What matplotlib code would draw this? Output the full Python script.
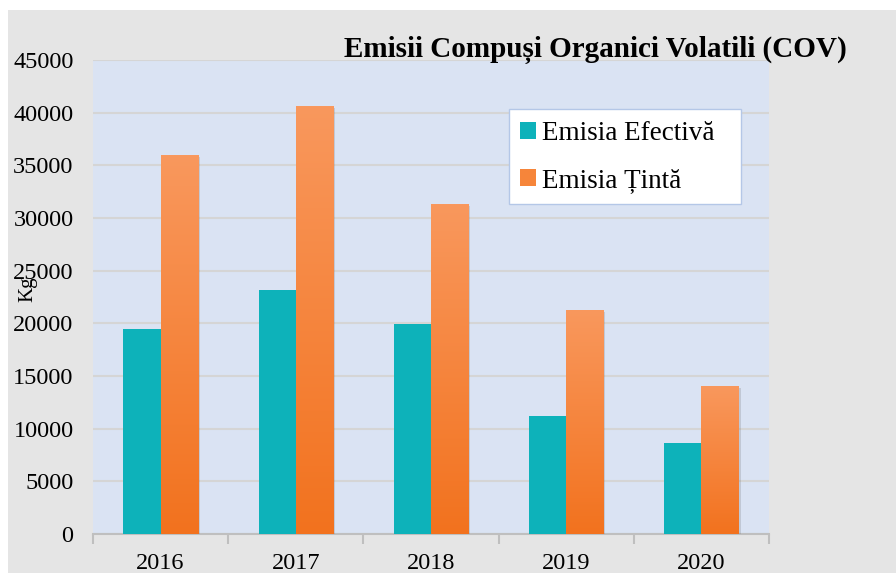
import numpy as np
import matplotlib
matplotlib.use('Agg')
import matplotlib.pyplot as plt
from matplotlib.patches import Rectangle, Patch
from matplotlib.colors import LinearSegmentedColormap
import matplotlib.patheffects as pe

years = ['2016', '2017', '2018', '2019', '2020']
efectiva = [19500, 23200, 19900, 11200, 8600]
tinta = [35900, 40600, 31300, 21200, 14000]
series_labels = ['Emisia Efectivă', 'Emisia Țintă']
yticks = list(range(0, 45001, 5000))
title = 'Emisii Compuși Organici Volatili (COV)'
ylabel = 'Kg'

plt.rcParams['font.family'] = ['Liberation Serif', 'DejaVu Serif']

W, H = 896, 573
fig = plt.figure(figsize=(W / 100, H / 100), dpi=100)
fig.patch.set_facecolor('white')
fig.add_artist(Rectangle((8 / W, 0), 1, 1 - 10 / H, transform=fig.transFigure,
                         facecolor='#e5e5e5', edgecolor='none', zorder=-10))

ax = fig.add_axes([93 / W, 39 / H, 676 / W, 474 / H])
ax.set_facecolor('#dae3f3')

x = np.arange(len(years))
w = 0.275
teal = '#0db2ba'
orange = '#f6853a'
shadow = [pe.SimplePatchShadow(offset=(1.5, -1), alpha=0.22, shadow_rgbFace='#6b6b6b'), pe.Normal()]
b1 = ax.bar(x - w / 2, efectiva, w, color=teal, zorder=3)
b2 = ax.bar(x + w / 2, tinta, w, color=orange, zorder=3)
for r in list(b1) + list(b2):
    r.set_path_effects(shadow)

cmap = LinearSegmentedColormap.from_list('o', ['#f2721e', '#f9985d'])
grad = np.linspace(0, 1, 256).reshape(-1, 1)
for r in b2:
    x0 = r.get_x()
    x1 = x0 + r.get_width()
    h = r.get_height()
    ax.imshow(grad, extent=(x0, x1, 0, h), origin='lower', aspect='auto',
              cmap=cmap, zorder=3.5, interpolation='bilinear')

ax.set_xlim(-0.5, len(years) - 0.5)
ax.set_ylim(0, 45000)
ax.set_yticks(yticks)
ax.set_yticklabels([str(v) for v in yticks])
ax.yaxis.grid(True, color='#d5d5d5', linewidth=1.5)
ax.set_axisbelow(True)
ax.tick_params(axis='y', length=0, labelsize=17.5, pad=14)

ax.set_xticks(x)
ax.set_xticklabels(years)
ax.set_xticks(np.arange(-0.5, len(years)), minor=True)
ax.tick_params(axis='x', which='major', length=0, labelsize=17.5, pad=13.5)
ax.tick_params(axis='x', which='minor', length=7, width=1.5, color='#bfbfbf')
for s in ['left', 'top', 'right']:
    ax.spines[s].set_visible(False)
ax.spines['bottom'].set_color('#bfbfbf')
ax.spines['bottom'].set_linewidth(1.5)

fig.text(344 / W, 1 - 57 / H, title, fontsize=21, fontweight='bold',
         ha='left', va='baseline', zorder=10)
fig.text(28 / W, 1 - 289 / H, ylabel, fontsize=15, rotation=90,
         ha='center', va='center', zorder=10)

fig.add_artist(Rectangle((509 / W, 1 - 204 / H), (741 - 509) / W, 95 / H,
                         transform=fig.transFigure, facecolor='white',
                         edgecolor='#b4c7e7', linewidth=1, zorder=5))
handles = [Patch(facecolor=teal), Patch(facecolor=orange)]
leg = fig.legend(handles, series_labels, loc='upper left',
                 bbox_to_anchor=(520 / W, 1 - 121 / H), frameon=False,
                 fontsize=19.5, handlelength=0.6, handleheight=0.6,
                 handletextpad=0.2, labelspacing=0.8, borderpad=0,
                 borderaxespad=0)
leg.set_zorder(6)

fig.savefig('out.png', dpi=100)
